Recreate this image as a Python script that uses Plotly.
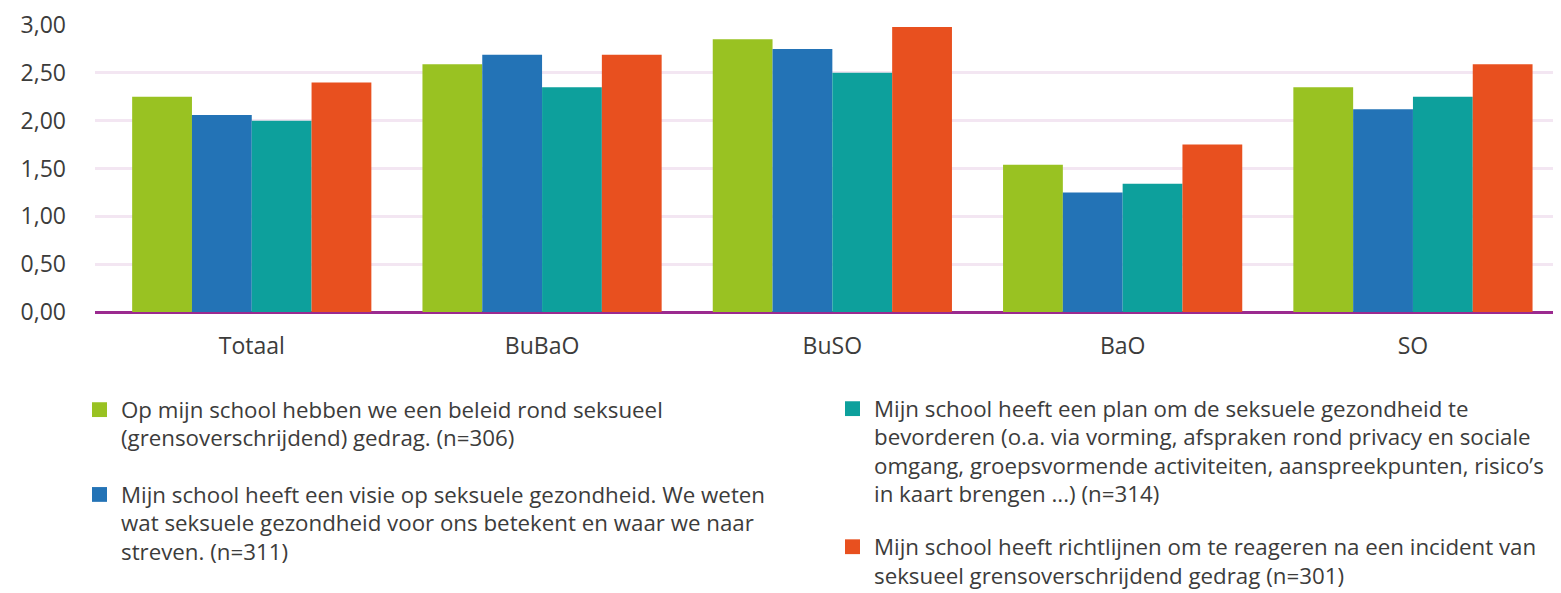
import plotly.graph_objects as go

categories = ["Totaal", "BuBaO", "BuSO", "BaO", "SO"]

series_names = [
    "Op mijn school hebben we een beleid rond seksueel (grensoverschrijdend) gedrag. (n=306)",
    "Mijn school heeft een visie op seksuele gezondheid. We weten wat seksuele gezondheid voor ons betekent en waar we naar streven. (n=311)",
    "Mijn school heeft een plan om de seksuele gezondheid te bevorderen (o.a. via vorming, afspraken rond privacy en sociale omgang, groepsvormende activiteiten, aanspreekpunten, risico’s in kaart brengen ...) (n=314)",
    "Mijn school heeft richtlijnen om te reageren na een incident van seksueel grensoverschrijdend gedrag (n=301)",
]

beleid = [2.25, 2.59, 2.85, 1.54, 2.35]
visie = [2.06, 2.69, 2.75, 1.25, 2.12]
plan = [2.00, 2.35, 2.50, 1.34, 2.25]
richtlijnen = [2.40, 2.69, 2.98, 1.75, 2.59]

values = [beleid, visie, plan, richtlijnen]
colors = ["#99C222", "#2373B6", "#0DA09C", "#E8501F"]

# legend text split into lines as in the reference
legend_lines = [
    ["Op mijn school hebben we een beleid rond seksueel",
     "(grensoverschrijdend) gedrag. (n=306)"],
    ["Mijn school heeft een visie op seksuele gezondheid. We weten",
     "wat seksuele gezondheid voor ons betekent en waar we naar",
     "streven. (n=311)"],
    ["Mijn school heeft een plan om de seksuele gezondheid te",
     "bevorderen (o.a. via vorming, afspraken rond privacy en sociale",
     "omgang, groepsvormende activiteiten, aanspreekpunten, risico’s",
     "in kaart brengen ...) (n=314)"],
    ["Mijn school heeft richtlijnen om te reageren na een incident van",
     "seksueel grensoverschrijdend gedrag (n=301)"],
]

FONT = "Open Sans"
FS = 23
LFS = 22.3
TXT = "#3C3C3B"

fig = go.Figure()
for name, vals, col in zip(series_names, values, colors):
    fig.add_trace(go.Bar(x=categories, y=vals, name=name, marker_color=col,
                         marker_line_width=0, showlegend=False))

# page offset of 8px (body margin) is accounted for
W, H = 1553, 585
ml, mr, mt, mb = 87, 0, 13, 281

fig.update_layout(
    width=W, height=H,
    margin=dict(l=ml, r=mr, t=mt, b=mb, pad=0),
    paper_bgcolor="white", plot_bgcolor="white",
    barmode="group", bargap=0.176, bargroupgap=0,
    separators=", ",
    font=dict(family=FONT, size=FS, color=TXT),
    xaxis=dict(range=[-0.54, 4.51], showgrid=False, zeroline=False,
               showline=False, ticks="", ticklabelstandoff=18,
               tickfont=dict(family=FONT, size=FS, color=TXT)),
    yaxis=dict(range=[0, 3.0], tickvals=[0, 0.5, 1, 1.5, 2, 2.5, 3],
               tickformat=".2f", showgrid=True, gridcolor="#F3E6F2",
               gridwidth=2.5, zeroline=True, zerolinecolor="#9B2A8F",
               zerolinewidth=3, showline=False, ticks="",
               ticklabelstandoff=28, ticklabeloverflow="allow",
               tickfont=dict(family=FONT, size=FS, color=TXT)),
)

# manual legend (two columns), positions in figure pixels
col_x = [111, 111, 864, 864]
first_line_y = [403, 489, 402, 542]
line_h = 28.7
PW, PH = W - ml - mr, H - mt - mb
for i in range(4):
    sq_x = col_x[i] - 27
    yc = first_line_y[i]
    fig.add_shape(type="rect", xref="paper", yref="paper",
                  x0=(sq_x - ml) / PW, x1=(sq_x + 15 - ml) / PW,
                  y0=(H - mb - (yc + 7.5)) / PH,
                  y1=(H - mb - (yc - 7.5)) / PH,
                  fillcolor=colors[i], line_width=0)
    for j, line in enumerate(legend_lines[i]):
        y = yc + j * line_h
        fig.add_annotation(xref="paper", yref="paper",
                           x=(col_x[i] - ml) / PW,
                           y=(H - mb - y) / PH,
                           text=line, showarrow=False, xanchor="left",
                           yanchor="middle",
                           font=dict(family=FONT, size=LFS, color=TXT))

fig.write_html("out.html")
